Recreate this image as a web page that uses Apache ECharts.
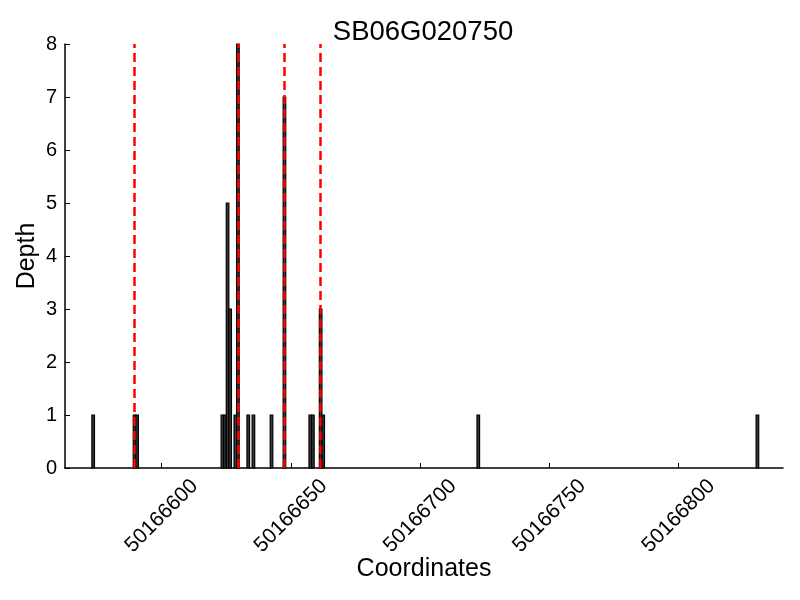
<!DOCTYPE html>
<html>
<head>
<meta charset="utf-8">
<script src="https://cdn.jsdelivr.net/npm/echarts@6/dist/echarts.min.js"></script>
<style>
  html, body { margin: 0; padding: 0; background: #fff; }
  #chart { width: 800px; height: 600px; }
</style>
</head>
<body>
<div id="chart"></div>
<script>
// bar start coordinate (each bar covers [pos, pos + 1]) and depth
const positions = [50166573, 50166589, 50166590, 50166623, 50166624, 50166625, 50166626,
  50166628, 50166629, 50166633, 50166635, 50166642, 50166647, 50166657, 50166658,
  50166661, 50166662, 50166722, 50166830]
const depths = [1, 1, 1, 1, 1, 5, 3, 1, 8, 1, 1, 1, 7, 1, 1, 3, 1, 1, 1]

// red dashed marker lines
const markers = [50166589.5, 50166629.5, 50166647.5, 50166661.5]

const xTicks = [50166600, 50166650, 50166700, 50166750, 50166800]

const font = 'Liberation Sans, Arial, sans-serif'

var chart = echarts.init(document.getElementById('chart'))

var barData = positions.map((p, i) => [p, depths[i]])

var option = {
  animation: false,
  title: {
    text: 'SB06G020750',
    left: 418,
    top: 13,
    textAlign: 'center',
    textStyle: { fontFamily: font, fontSize: 27.5, fontWeight: 'normal', color: '#000' }
  },
  grid: {
    left: 65,
    right: 17,
    top: 44,
    bottom: 132,
    outerBoundsMode: 'none'
  },
  xAxis: {
    type: 'value',
    min: 50166562.6,
    max: 50166840.4,
    name: 'Coordinates',
    nameLocation: 'middle',
    nameGap: 89,
    nameMoveOverlap: false,
    nameTextStyle: { fontFamily: font, fontSize: 25, color: '#000' },
    splitLine: { show: false },
    axisLine: { show: true, onZero: false, lineStyle: { color: '#000', width: 1.5 } },
    axisTick: { show: true, inside: true, length: 5, customValues: xTicks, lineStyle: { color: '#000' } },
    axisLabel: {
      customValues: xTicks,
      rotate: 45,
      align: 'center',
      verticalAlign: 'middle',
      margin: 48,
      fontFamily: font,
      fontSize: 21,
      color: '#000',
      formatter: v => String(Math.round(v))
    }
  },
  yAxis: {
    type: 'value',
    min: 0,
    max: 8,
    interval: 1,
    name: 'Depth',
    nameLocation: 'middle',
    nameGap: 25,
    nameMoveOverlap: false,
    nameRotate: 90,
    nameTextStyle: { fontFamily: font, fontSize: 25, color: '#000' },
    splitLine: { show: false },
    axisLine: { show: true, lineStyle: { color: '#000', width: 1.5 } },
    axisTick: { show: true, inside: true, length: 5, lineStyle: { color: '#000' } },
    axisLabel: { margin: 8, fontFamily: font, fontSize: 20, color: '#000' }
  },
  series: [
    {
      type: 'custom',
      data: barData,
      encode: { x: 0, y: 1 },
      renderItem: function (params, api) {
        var x = api.value(0)
        var y = api.value(1)
        var p1 = api.coord([x, y])
        var p2 = api.coord([x + 1, 0])
        return {
          type: 'rect',
          shape: { x: p1[0], y: p1[1], width: p2[0] - p1[0], height: p2[1] - p1[1] },
          style: { fill: '#3a3a3a', stroke: '#000', lineWidth: 1.2 }
        }
      },
      markLine: {
        silent: true,
        symbol: 'none',
        label: { show: false },
        lineStyle: { color: '#ff0000', width: 2.5, type: [9, 5] },
        data: markers.map(m => ({ xAxis: m }))
      }
    }
  ]
}

chart.setOption(option)
</script>
</body>
</html>
